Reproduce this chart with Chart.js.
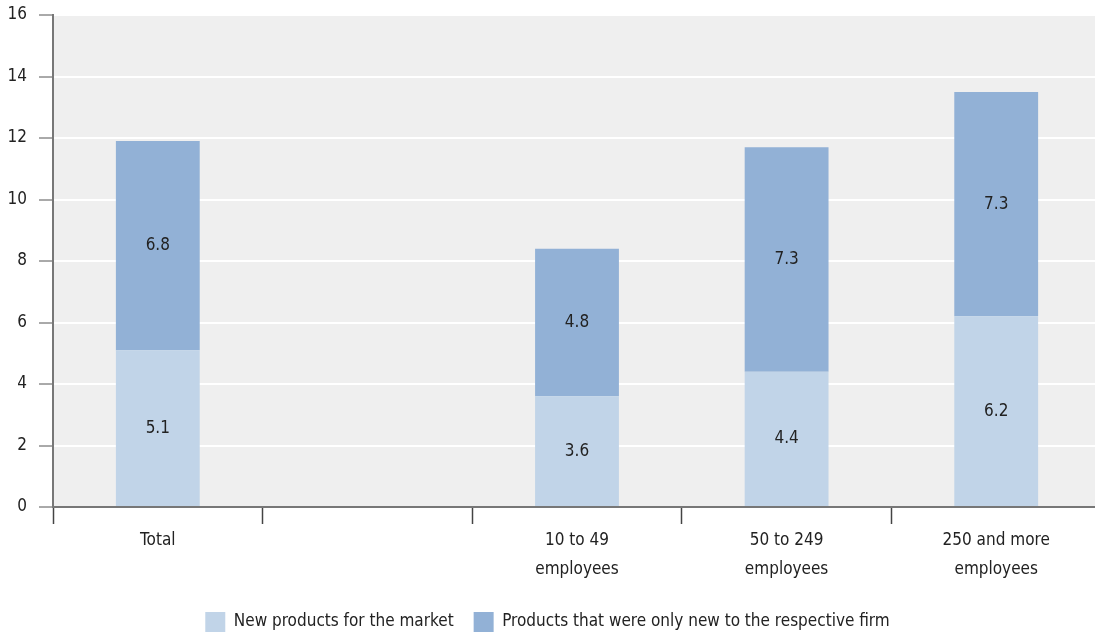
<!DOCTYPE html>
<html>
<head>
<meta charset="utf-8">
<script src="https://cdn.jsdelivr.net/npm/chart.js@4/dist/chart.umd.min.js"></script>
<style>
  html, body { margin: 0; padding: 0; background: #fff; overflow: hidden; }
  #wrap { width: 1101px; height: 633px; }
</style>
</head>
<body>
<div id="wrap"><canvas id="chart"></canvas></div>
<script>
// categories (the 2nd one is an empty slot in the original)
const categories = ["Total", "", ["10 to 49", "employees"], ["50 to 249", "employees"], ["250 and more", "employees"]];
const newForMarket = [5.1, null, 3.6, 4.4, 6.2];
const newForFirm = [6.8, null, 4.8, 7.3, 7.3];
const seriesNames = ["New products for the market", "Products that were only new to the respective firm"];
const yTicks = [0, 2, 4, 6, 8, 10, 12, 14, 16];

const FONT = "'DejaVu Sans Condensed', 'DejaVu Sans', sans-serif";
const textColor = "#222";

// grey plot background
const plotBg = {
  id: "plotBg",
  beforeDraw(chart) {
    const { ctx, chartArea: a } = chart;
    ctx.save();
    ctx.fillStyle = "#efefef";
    ctx.fillRect(a.left, a.top, a.right - a.left, a.bottom - a.top);
    ctx.restore();
  }
};

// move the legend to where the original has it
const legendNudge = {
  id: "legendNudge",
  afterLayout(chart) {
    const lg = chart.legend;
    if (!lg) return;
    lg.top += 9; lg.bottom += 9;
    lg.left -= 3; lg.right -= 3;
  }
};

// value labels in the middle of each segment
const barLabels = {
  id: "barLabels",
  afterDatasetsDraw(chart) {
    const { ctx } = chart;
    ctx.save();
    ctx.font = "17px " + FONT;
    ctx.fillStyle = textColor;
    ctx.textAlign = "center";
    ctx.textBaseline = "middle";
    chart.data.datasets.forEach((ds, i) => {
      chart.getDatasetMeta(i).data.forEach((bar, j) => {
        const v = ds.data[j];
        if (v == null) return;
        ctx.fillText(v.toFixed(1), bar.x, (bar.y + bar.base) / 2);
      });
    });
    ctx.restore();
  }
};

new Chart(document.getElementById("chart"), {
  type: "bar",
  data: {
    labels: categories,
    datasets: [
      { label: seriesNames[0], data: newForMarket, backgroundColor: "#c1d4e8" },
      { label: seriesNames[1], data: newForFirm, backgroundColor: "#92b1d6" }
    ]
  },
  options: {
    responsive: true,
    maintainAspectRatio: false,
    animation: false,
    barPercentage: 0.4,
    categoryPercentage: 1,
    layout: { padding: { top: 0, right: 0, left: 0, bottom: 0 } },
    plugins: {
      tooltip: { enabled: false },
      legend: {
        position: "bottom",
        labels: {
          boxWidth: 20,
          boxHeight: 20,
          padding: 20,
          color: textColor,
          font: { family: FONT, size: 17 }
        }
      }
    },
    scales: {
      x: {
        stacked: true,
        grid: {
          display: true,
          offset: true,
          drawOnChartArea: false,
          tickLength: 17,
          tickColor: "#444",
          tickWidth: 1.5
        },
        border: { color: "#777", width: 2 },
        ticks: {
          color: textColor,
          font: { family: FONT, size: 17, lineHeight: 1.7 },
          maxRotation: 0,
          padding: 2
        },
        afterFit(scale) { scale.height = 76; }
      },
      y: {
        stacked: true,
        min: 0,
        max: 16,
        afterBuildTicks(scale) { scale.ticks = yTicks.map(v => ({ value: v })); },
        grid: {
          color: "#fff",
          lineWidth: 2,
          tickLength: 14,
          tickColor: "#555",
          tickWidth: 1
        },
        border: { color: "#777", width: 2 },
        ticks: {
          color: textColor,
          font: { family: FONT, size: 17 },
          padding: 12
        },
        afterFit(scale) { scale.width = 53; scale.paddingTop = 15; }
      }
    }
  },
  plugins: [plotBg, legendNudge, barLabels]
});
</script>
</body>
</html>
